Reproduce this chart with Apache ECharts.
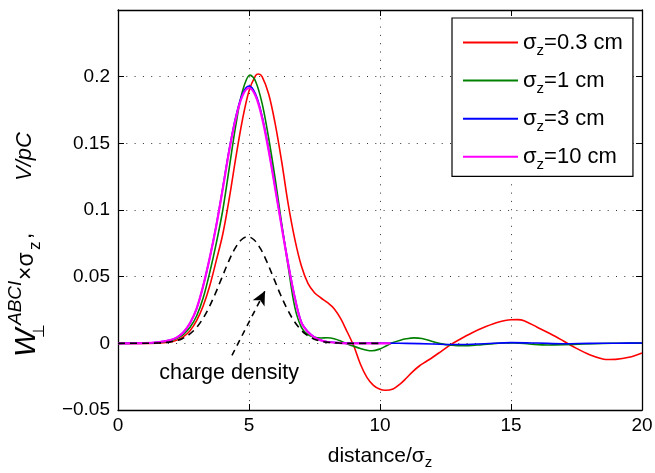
<!DOCTYPE html>
<html><head><meta charset="utf-8">
<script src="https://cdn.jsdelivr.net/npm/echarts@6/dist/echarts.min.js"></script>
<style>html,body{margin:0;padding:0;background:#fff}#c{width:655px;height:473px}</style>
</head><body><div id="c"></div>
<script>
const seriesNames = ['sz03', 'sz1', 'sz3', 'sz10'];
const legendValues = ['=0.3 cm', '=1 cm', '=3 cm', '=10 cm'];
const xTickLabels = ['0', '5', '10', '15', '20'];
const yTickLabels = ['\u22120.05', '0', '0.05', '0.1', '0.15', '0.2', ''];

const red03 = [[0,0],[1,0],[1.5,0.0001],[2,0.001],[2.25,0.0024],[2.5,0.005],[2.75,0.0095],[3,0.017],[3.25,0.028],[3.5,0.043],[3.75,0.062],[4,0.082],[4.25,0.109],[4.5,0.1396],[4.75,0.1677],[5,0.1893],[5.25,0.2008],[5.36,0.202],[5.5,0.2],[5.75,0.187],[6,0.1646],[6.25,0.136],[6.5,0.104],[6.75,0.078],[7,0.058],[7.25,0.045],[7.5,0.038],[7.75,0.034],[8,0.0305],[8.25,0.026],[8.5,0.0185],[8.75,0.0085],[9,-0.002],[9.25,-0.0155],[9.5,-0.0255],[9.75,-0.0315],[10,-0.0345],[10.2,-0.0352],[10.5,-0.0342],[10.75,-0.0308],[11,-0.0262],[11.25,-0.0212],[11.5,-0.017],[11.75,-0.0138],[12,-0.0106],[12.35,-0.0058],[12.7,-0.001],[13,0.0025],[13.5,0.0078],[14,0.0122],[14.5,0.0158],[15,0.0177],[15.25,0.0178],[15.5,0.017],[16,0.0121],[16.5,0.0072],[17,0.0018],[17.5,-0.0038],[18,-0.0085],[18.5,-0.0117],[18.75,-0.0121],[19,-0.012],[19.5,-0.0105],[20,-0.0072]];

const green1 = [[0,0],[1,0.0001],[1.5,0.0006],[2,0.002],[2.25,0.0037],[2.5,0.0068],[2.75,0.012],[3,0.0205],[3.25,0.034],[3.5,0.053],[3.75,0.075],[4,0.1],[4.25,0.132],[4.5,0.164],[4.75,0.189],[5.04,0.2013],[5.25,0.1966],[5.5,0.18],[5.75,0.154],[6,0.1233],[6.25,0.0894],[6.5,0.057],[6.75,0.027],[7,0.012],[7.25,0.0065],[7.5,0.0045],[7.75,0.004],[8,0.0042],[8.25,0.0035],[8.5,0.0018],[8.75,-0.0005],[9,-0.0022],[9.25,-0.0038],[9.5,-0.0052],[9.7,-0.0056],[10,-0.0042],[10.25,-0.0018],[10.5,0.0006],[10.75,0.0022],[11,0.0034],[11.3,0.0041],[11.6,0.0036],[12,0.0014],[12.3,-0.0002],[12.75,-0.0014],[13.2,-0.0018],[13.7,-0.0013],[14.2,-0.0004],[14.7,0.0002],[15.2,0.0002],[15.7,-0.0005],[16.4,-0.0012],[17,-0.001],[17.75,-0.0005],[18.5,-0.0001],[19.25,0.0001],[20,0.0002]];

const blue3 = [[0,0],[1,0.0002],[1.5,0.0008],[2,0.0025],[2.25,0.0045],[2.5,0.0084],[2.75,0.0152],[3,0.026],[3.25,0.043],[3.5,0.064],[3.75,0.0885],[4,0.1168],[4.25,0.146],[4.5,0.1703],[4.75,0.187],[5,0.193],[5.25,0.187],[5.5,0.1703],[5.75,0.1455],[6,0.117],[6.25,0.0878],[6.5,0.0595],[6.75,0.0345],[7,0.016],[7.25,0.0088],[7.5,0.0047],[7.75,0.0024],[8,0.0012],[8.5,0.0004],[9,0.0001],[10,0.0002],[11,0],[12,-0.0005],[13,-0.0009],[14,-0.0003],[15,0.0005],[16,0.0002],[17,-0.0003],[18,0],[19,0.0001],[20,0.0002]];

const magenta10 = [[0,0],[1,0.0002],[1.5,0.0008],[2,0.0025],[2.25,0.0045],[2.5,0.0084],[2.75,0.0152],[3,0.026],[3.25,0.043],[3.5,0.064],[3.75,0.088],[4,0.116],[4.25,0.145],[4.5,0.169],[4.75,0.1856],[5,0.1915],[5.25,0.1856],[5.5,0.169],[5.75,0.1445],[6,0.1161],[6.25,0.087],[6.5,0.059],[6.75,0.034],[7,0.0155],[7.25,0.0085],[7.5,0.0045],[7.75,0.0022],[8,0.001],[8.5,0.0002],[9,0],[10.4,0]];

const chargeDensity = [[0,0],[1,0.0001],[1.45,0.0002],[1.95,0.0009],[2.2,0.0018],[2.45,0.0035],[2.7,0.0064],[2.95,0.0108],[3.2,0.0173],[3.45,0.026],[3.7,0.0366],[3.95,0.0485],[4.2,0.0604],[4.45,0.0706],[4.7,0.0775],[4.95,0.08],[5.2,0.0775],[5.45,0.0706],[5.7,0.0604],[5.95,0.0485],[6.2,0.0366],[6.45,0.026],[6.7,0.0173],[6.95,0.0108],[7.2,0.0064],[7.45,0.0035],[7.7,0.0018],[7.95,0.0009],[8.45,0.0002],[8.95,0],[10,0]];

const arrowFrom = [4.35, -0.009];
const arrowTo = [5.61, 0.0393];
const annotationAt = [4.24, -0.0225];
const annotationText = 'charge density';

const FONT = '"Liberation Sans", Arial, Helvetica, sans-serif';
const chart = echarts.init(document.getElementById('c'), null, {renderer: 'canvas'});

const lineSeries = (name, data, color, width) => ({
  type: 'line', name, data, symbol: 'none', smooth: 0.35,
  lineStyle: {color, width}, itemStyle: {color}, emphasis: {disabled: true}, z: 3
});

const gridDotted = {show: true, lineStyle: {color: '#333', width: 1, type: [1, 7.3]}};
const subStyle = (size, drop) => ({fontSize: size, fontFamily: FONT, color: '#000', lineHeight: 8, padding: [drop * 2, 0, 0, 0], verticalAlign: 'middle'});

chart.setOption({
  animation: false,
  textStyle: {fontFamily: FONT},
  grid: {left: 118, right: 13, top: 10, bottom: 63, show: false, containLabel: false, outerBoundsMode: 'none'},
  xAxis: [
    {type: 'value', min: 0, max: 20, interval: 5, position: 'bottom',
     axisLine: {show: true, onZero: false, lineStyle: {color: '#000', width: 1.3}},
     axisTick: {show: true, inside: true, length: 6, lineStyle: {color: '#000'}},
     axisLabel: {color: '#000', fontSize: 19, margin: 6, fontFamily: FONT,
       formatter: (v, i) => xTickLabels[i]},
     splitLine: gridDotted,
     name: '{a|distance/σ}{b|z}', nameLocation: 'middle', nameGap: 34,
     nameTextStyle: {color: '#000', rich: {
       a: {fontSize: 21, fontFamily: FONT, color: '#000', lineHeight: 24},
       b: subStyle(15, 7)}}},
    {type: 'value', min: 0, max: 20, interval: 5, position: 'top',
     axisLine: {show: true, onZero: false, lineStyle: {color: '#000', width: 1.3}},
     axisTick: {show: true, inside: true, length: 6, lineStyle: {color: '#000'}},
     axisLabel: {show: false}, splitLine: {show: false}}
  ],
  yAxis: [
    {type: 'value', min: -0.05, max: 0.25, interval: 0.05, position: 'left',
     axisLine: {show: true, onZero: false, lineStyle: {color: '#000', width: 1.3}},
     axisTick: {show: true, inside: true, length: 6, lineStyle: {color: '#000'}},
     axisLabel: {color: '#000', fontSize: 19, margin: 8, fontFamily: FONT,
       formatter: (v, i) => yTickLabels[i]},
     splitLine: gridDotted},
    {type: 'value', min: -0.05, max: 0.25, interval: 0.05, position: 'right',
     axisLine: {show: true, onZero: false, lineStyle: {color: '#000', width: 1.3}},
     axisTick: {show: true, inside: true, length: 6, lineStyle: {color: '#000'}},
     axisLabel: {show: false}, splitLine: {show: false}}
  ],
  legend: {
    orient: 'vertical', left: 452, top: 18,
    data: seriesNames.map(n => ({name: n, icon: 'rect'})),
    itemWidth: 55, itemHeight: 2, itemGap: 7.1,
    padding: [9, 10, 4, 11],
    backgroundColor: '#fff', borderColor: '#000', borderWidth: 1.2, borderRadius: 0,
    selectedMode: false,
    formatter: name => '{s|σ}{z|z}{t|' + legendValues[seriesNames.indexOf(name)] + '}',
    textStyle: {color: '#000', rich: {
      s: {fontSize: 22, fontFamily: FONT, color: '#000', lineHeight: 22},
      z: subStyle(15, 8),
      t: {fontSize: 22, fontFamily: FONT, color: '#000', lineHeight: 22}}}
  },
  series: [
    lineSeries(seriesNames[0], red03, '#ff0000', 1.6),
    lineSeries(seriesNames[1], green1, '#008000', 1.6),
    lineSeries(seriesNames[2], blue3, '#0000ff', 1.6),
    lineSeries(seriesNames[3], magenta10, '#ff00ff', 2.2),
    {type: 'line', name: 'charge', data: chargeDensity, symbol: 'none', smooth: 0.35, z: 4,
     lineStyle: {color: '#000', width: 1.6, type: [7, 5]}, emphasis: {disabled: true},
     markLine: {silent: true, symbol: ['none', 'arrow'], symbolSize: [10, 14],
       lineStyle: {color: '#000', width: 1.6, type: [6, 5]}, label: {show: false},
       data: [[{coord: arrowFrom}, {coord: arrowTo}]]},
     markPoint: {silent: true, data: [{coord: annotationAt, symbol: 'circle', symbolSize: 1,
       itemStyle: {color: 'rgba(0,0,0,0)'},
       label: {show: true, position: 'inside', formatter: annotationText, color: '#000',
         fontSize: 21.5, fontFamily: FONT}}]}}
  ],
  graphic: [{
    type: 'group', x: 25, y: 357, rotation: Math.PI / 2, silent: true,
    children: [
      {type: 'text', x: 0, y: 2, style: {text: 'W', fontSize: 30, fontStyle: 'italic', fontFamily: FONT, fill: '#000', verticalAlign: 'middle'}},
      {type: 'text', x: 19, y: 15, style: {text: '⊥', fontSize: 16, fontFamily: FONT, fill: '#000', verticalAlign: 'middle'}},
      {type: 'text', x: 32, y: -9, style: {text: 'ABCI', fontSize: 19, fontStyle: 'italic', fontFamily: FONT, fill: '#000', verticalAlign: 'middle'}},
      {type: 'text', x: 77, y: 2, style: {text: '×σ', fontSize: 23, fontFamily: FONT, fill: '#000', verticalAlign: 'middle'}},
      {type: 'text', x: 107, y: 10, style: {text: 'z', fontSize: 17, fontFamily: FONT, fill: '#000', verticalAlign: 'middle'}},
      {type: 'text', x: 118, y: 0, style: {text: ',', fontSize: 22, fontFamily: FONT, fill: '#000', verticalAlign: 'middle'}},
      {type: 'text', x: 176, y: 0, style: {text: 'V/pC', fontSize: 22, fontStyle: 'italic', fontFamily: FONT, fill: '#000', verticalAlign: 'middle'}}
    ]
  }]
});
</script></body></html>
